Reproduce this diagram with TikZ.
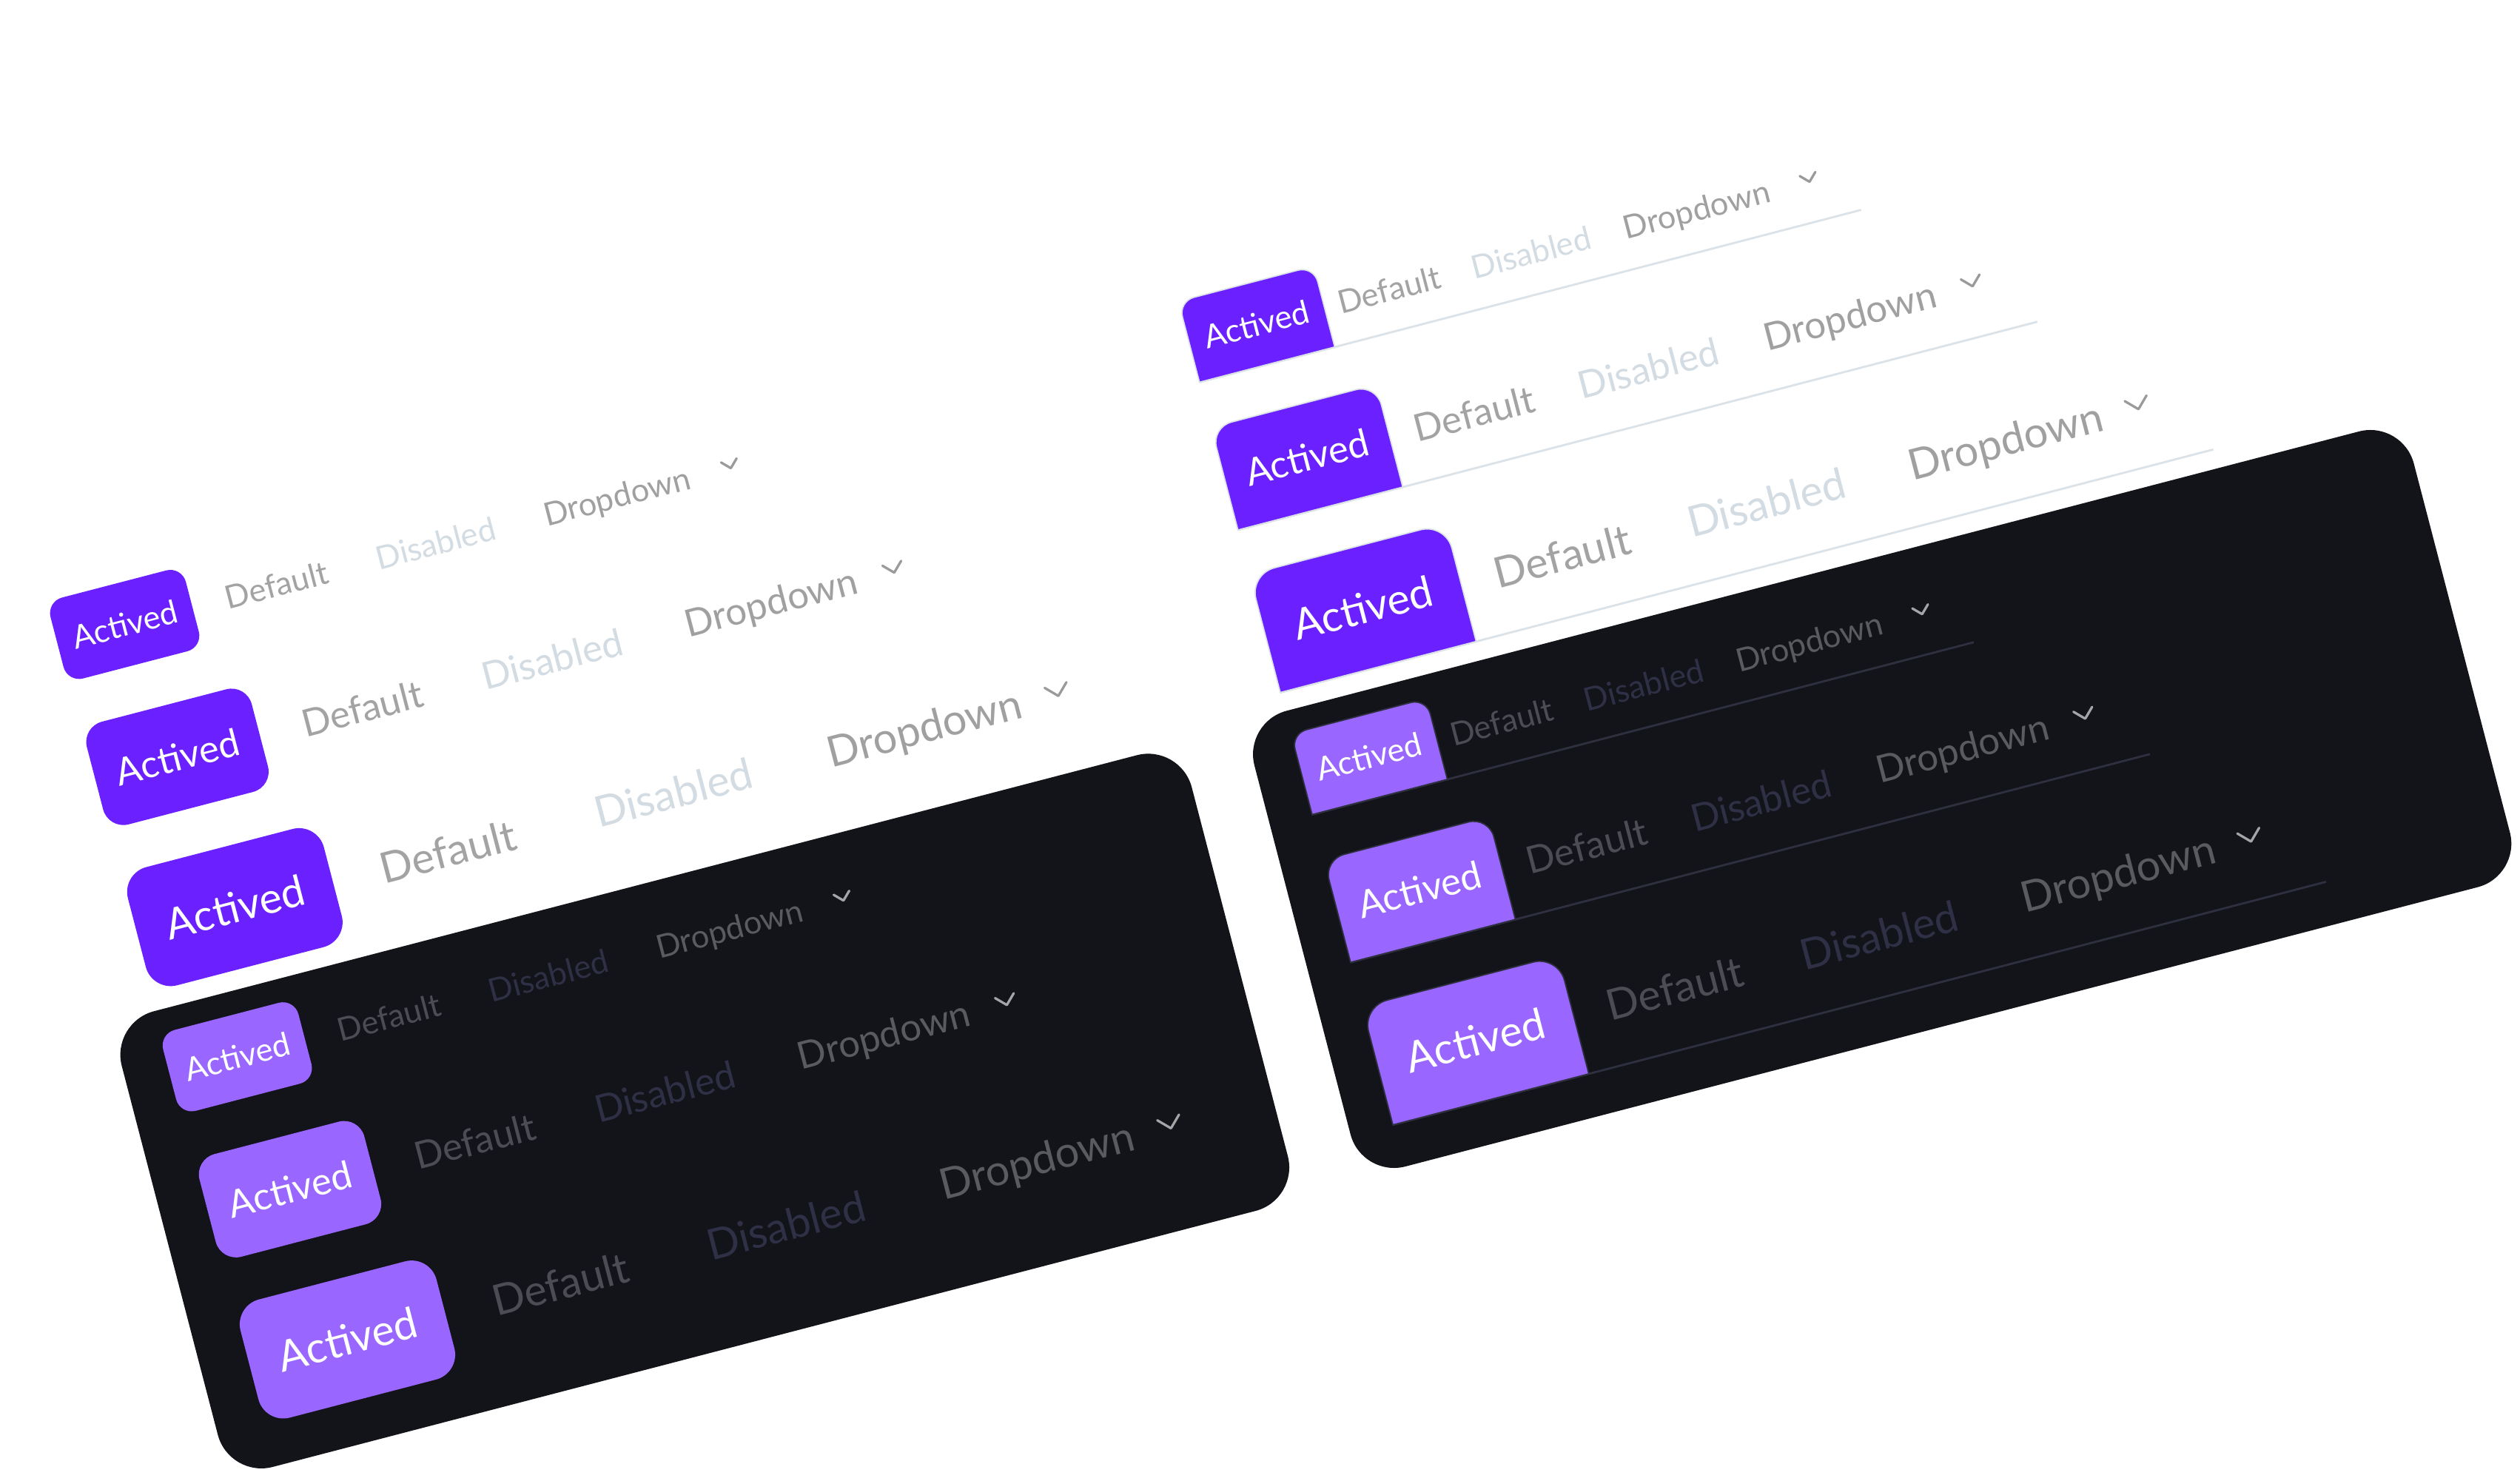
\documentclass[tikz,border=0pt]{standalone}
\usepackage{fontspec}
\setmainfont{Lato}
\definecolor{actL}{HTML}{6B21FF}
\definecolor{actD}{HTML}{9966FF}
\definecolor{panel}{HTML}{131419}
\definecolor{defW}{HTML}{A3A3A3}
\definecolor{disW}{HTML}{D3DCE2}
\definecolor{dropW}{HTML}{A0A0A0}
\definecolor{chevW}{HTML}{9A9A9A}
\definecolor{defD}{HTML}{4C4D54}
\definecolor{disD}{HTML}{2F3046}
\definecolor{dropD}{HTML}{5A5B61}
\definecolor{chevD}{HTML}{A5A5A8}
\definecolor{lineW}{HTML}{DCE3E8}
\definecolor{lineD}{HTML}{2E3040}
\begin{document}
\begin{tikzpicture}[x=1pt,y=1pt,
  tabtxt/.style={text=white, inner sep=0pt},
  item/.style={anchor=base, inner sep=0pt},
  chev/.style={line width=1.5pt, line cap=round, line join=round},
  uline/.style={line width=1.3pt},
  tabedge/.style={line width=0.8pt},
  panelbox/.style={fill=panel, rounded corners=28pt}]
\fill[white] (0,0) rectangle (1568,921);
\useasboundingbox (0,0) rectangle (1568,921);
% ---------------- left group ----------------
\begin{scope}[shift={(68.74,284.77)}, rotate=14.6, transform shape]
  \fill[panelbox] (0,0) rectangle (688,-293);
  \foreach \off/\actc/\defc/\disc/\dropc/\chevc/\grp in {-278/actL/defW/disW/dropW/chevW/W, 0/actD/defD/disD/dropD/chevD/D}{
    \foreach \rw/\yy/\fs/\tabx/\tabw/\tabh/\tabr/\dx/\sx/\px/\cx/\cw in {1/40.5/20/71/87/52/10/168.5/271/387.5/460.5/5, 2/128.5/23.5/82/106/66/13/200.7/323/463.7/542.5/6, 3/228/26.5/93/126/76/16/229.9/375/536.3/622/7}{
      \pgfmathsetmacro\Y{-(\yy+\off)}
      \pgfmathsetmacro\Yb{\Y-0.36*\fs}
      \node[tabtxt, fill=\actc, minimum width=\tabw pt, minimum height=\tabh pt, rounded corners=\tabr pt, font=\fontsize{\fs pt}{\fs pt}\selectfont] (L\grp\rw act) at (\tabx,\Y) {Actived};
      \node[item, text=\defc, font=\fontsize{\fs pt}{\fs pt}\selectfont] (L\grp\rw def) at (\dx,\Yb) {Default};
      \node[item, text=\disc, font=\fontsize{\fs pt}{\fs pt}\selectfont] (L\grp\rw dis) at (\sx,\Yb) {Disabled};
      \node[item, text=\dropc, font=\fontsize{\fs pt}{\fs pt}\selectfont] (L\grp\rw drop) at (\px,\Yb) {Dropdown};
      \draw[chev, draw=\chevc] ({\cx-\cw},{\Y+1.5+0.5*\cw}) -- (\cx,{\Y+1.5-0.5*\cw}) -- ({\cx+\cw},{\Y+1.5+0.5*\cw});
    }
  }
\end{scope}
% ---------------- right group ----------------
\begin{scope}[shift={(773.5,471.7)}, rotate=14.6, transform shape]
  \fill[panelbox] (0,0) rectangle (745.5,-293);
  \foreach \off/\actc/\defc/\disc/\dropc/\chevc/\linec/\grp in {-278/actL/defW/disW/dropW/chevW/lineW/W, 0/actD/defD/disD/dropD/chevD/lineD/D}{
    \foreach \rw/\yy/\fs/\tabx/\tabw/\tabh/\tabr/\dx/\sx/\px/\cx/\cw/\ux in {1/40.5/20/70.5/87/52/10/155.7/247/353.4/425.8/5/452.5, 2/128.5/23.5/80/106/66/13/187.4/299.5/429/507.6/6/541, 3/228/26.5/90/126/76/16/218.1/349.5/503.2/588.2/7/627}{
      \pgfmathsetmacro\Y{-(\yy+\off)}
      \pgfmathsetmacro\Yb{\Y-0.36*\fs}
      \pgfmathsetmacro\xa{\tabx-\tabw/2}
      \pgfmathsetmacro\xb{\tabx+\tabw/2}
      \pgfmathsetmacro\ya{\Y+\tabh/2}
      \pgfmathsetmacro\yb{\Y-\tabh/2}
      \coordinate (R\grp\rw u0) at (\xa,\yb);
      \coordinate (R\grp\rw u1) at (\ux,\yb);
      \draw[uline, draw=\linec] (R\grp\rw u0) -- (R\grp\rw u1);
      \draw[tabedge, fill=\actc, draw=\linec] (\xa,\yb) -- (\xa,{\ya-\tabr}) arc[start angle=180,end angle=90,radius=\tabr pt] -- ({\xb-\tabr},\ya) arc[start angle=90,end angle=0,radius=\tabr pt] -- (\xb,\yb) -- cycle;
      \node[tabtxt, font=\fontsize{\fs pt}{\fs pt}\selectfont] (R\grp\rw act) at (\tabx,\Y) {Actived};
      \node[item, text=\defc, font=\fontsize{\fs pt}{\fs pt}\selectfont] (R\grp\rw def) at (\dx,\Yb) {Default};
      \node[item, text=\disc, font=\fontsize{\fs pt}{\fs pt}\selectfont] (R\grp\rw dis) at (\sx,\Yb) {Disabled};
      \node[item, text=\dropc, font=\fontsize{\fs pt}{\fs pt}\selectfont] (R\grp\rw drop) at (\px,\Yb) {Dropdown};
      \draw[chev, draw=\chevc] ({\cx-\cw},{\Y+1.5+0.5*\cw}) -- (\cx,{\Y+1.5-0.5*\cw}) -- ({\cx+\cw},{\Y+1.5+0.5*\cw});
    }
  }
\end{scope}
\end{tikzpicture}
\end{document}
